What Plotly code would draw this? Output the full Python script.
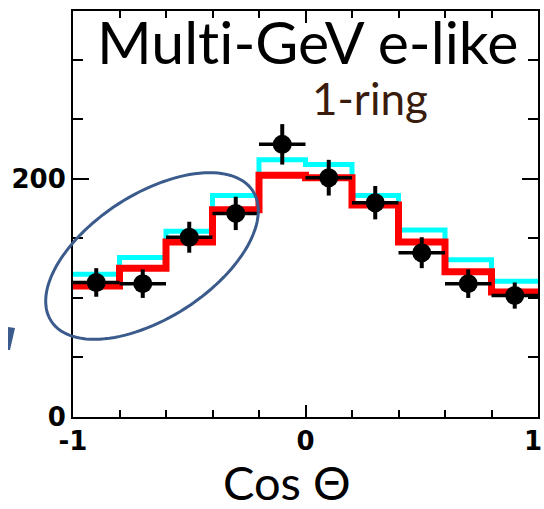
import numpy as np
import plotly.graph_objects as go

# Bin edges in cos(theta) and per-bin contents
bin_edges = [-1.0, -0.8, -0.6, -0.4, -0.2, 0.0, 0.2, 0.4, 0.6, 0.8, 1.0]
bin_centers = [-0.9, -0.7, -0.5, -0.3, -0.1, 0.1, 0.3, 0.5, 0.7, 0.9]
data_counts = [113, 112, 151, 171, 229, 201, 180, 138, 112, 102]
data_errors = [12, 12, 13, 14, 17, 15, 14, 13, 12, 11]
mc_osc = [110, 125, 147, 174, 203, 201, 178, 147, 122, 105]      # red
mc_noosc = [120, 134, 156, 186, 216, 212, 186, 157, 132, 114]    # cyan
half_width = [0.1] * len(bin_centers)

x_ticks = [-1, 0, 1]
x_ticktext = ["-1", "0", ""]   # the "1" label is placed right-aligned at the page edge
y_ticks = [0, 200]
y_ticktext = ["0", "200"]

# figure geometry (pixels)
W, H = 544, 509
ML, MR, MT, MB = 73, 6, 11, 92
PW, PH = W - ML - MR, H - MT - MB


def px(p):
    return (p - ML) / PW


def py(p):
    return (H - MB - p) / PH


def step(vals):
    return list(vals) + [vals[-1]]


TICKFONT = dict(family="DejaVu Sans", size=26, color="black", weight="bold")

fig = go.Figure()
fig.add_trace(go.Scatter(
    x=bin_edges, y=step(mc_noosc), mode="lines", line_shape="hv",
    line=dict(color="#00FFFF", width=5), hoverinfo="skip"))
fig.add_trace(go.Scatter(
    x=bin_edges, y=step(mc_osc), mode="lines", line_shape="hv",
    line=dict(color="#FF0000", width=7), hoverinfo="skip"))
fig.add_trace(go.Scatter(
    x=bin_centers, y=data_counts, mode="markers",
    marker=dict(color="black", size=19, symbol="circle"),
    error_x=dict(type="data", array=half_width, color="black", thickness=3.5, width=0),
    error_y=dict(type="data", array=data_errors, color="black", thickness=4, width=0)))

# ellipse around the upward-going bins (drawn in pixel space -> paper)
cx, cy, a, b, th = 152, 256, 120, 62, np.radians(32.8)
t = np.linspace(0, 2 * np.pi, 121)
ex = cx + a * np.cos(t) * np.cos(th) - b * np.sin(t) * np.sin(th)
ey = cy - (a * np.cos(t) * np.sin(th) + b * np.sin(t) * np.cos(th))
path = "M " + " L ".join(f"{px(u):.4f},{py(v):.4f}" for u, v in zip(ex, ey)) + " Z"
shapes = [
    dict(type="path", xref="paper", yref="paper", path=path,
         line=dict(color="#3b5b8c", width=3), layer="above"),
    dict(type="path", xref="paper", yref="paper",
         path=(f"M {px(8):.4f},{py(327):.4f} L {px(15):.4f},{py(328):.4f} "
               f"L {px(10):.4f},{py(350):.4f} L {px(8):.4f},{py(350):.4f} Z"),
         fillcolor="#3b5b8c", line=dict(width=0)),
]

annotations = [
    dict(text="Mult\u200ci-GeV e-like", x=px(307), y=py(42), xref="paper", yref="paper",
         showarrow=False, xanchor="center", yanchor="middle",
         font=dict(family="Lato", size=59, color="black")),
    dict(text="1-ring", x=px(370), y=py(98), xref="paper", yref="paper",
         showarrow=False, xanchor="center", yanchor="middle",
         font=dict(family="Lato", size=44, color="#3a1c0c")),
    dict(text="Cos Θ", x=px(287), y=py(482), xref="paper", yref="paper",
         showarrow=False, xanchor="center", yanchor="middle",
         font=dict(family="Lato", size=47, color="black")),
    dict(text="1", x=px(543), y=py(441), xref="paper", yref="paper",
         showarrow=False, xanchor="right", yanchor="middle", borderpad=0,
         font=TICKFONT),
]

axis_common = dict(showline=True, linecolor="black", linewidth=2, mirror="allticks",
                   ticks="inside", tickcolor="black", tickwidth=2, showgrid=False,
                   zeroline=False, ticklabeloverflow="allow", automargin=False,
                   tickfont=TICKFONT)

fig.update_layout(
    width=W, height=H, autosize=False,
    margin=dict(l=ML, r=MR, t=MT, b=MB, autoexpand=False),
    paper_bgcolor="white", plot_bgcolor="white",
    showlegend=False,
    xaxis=dict(range=[-1, 1], tickvals=x_ticks, ticktext=x_ticktext, ticklen=12,
               minor=dict(dtick=0.2, ticks="inside", ticklen=7, tickcolor="black", tickwidth=2),
               **axis_common),
    yaxis=dict(range=[0, 341], tickvals=y_ticks, ticktext=y_ticktext, ticklen=16,
               minor=dict(dtick=50, ticks="inside", ticklen=10, tickcolor="black", tickwidth=2),
               **axis_common),
    shapes=shapes,
    annotations=annotations,
)

fig.write_html("out.html")
